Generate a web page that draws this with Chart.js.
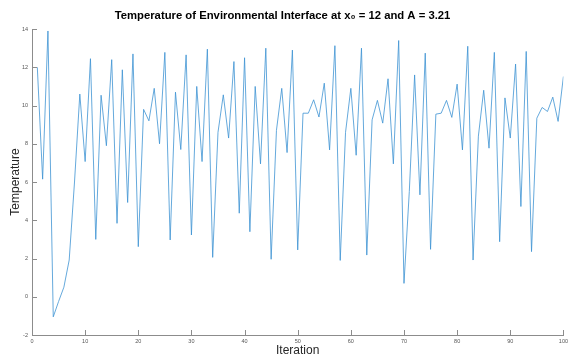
<!DOCTYPE html>
<html>
<head>
<meta charset="utf-8">
<script src="https://cdn.jsdelivr.net/npm/chart.js@4"></script>
<style>
  html, body { margin: 0; padding: 0; background: #fff; }
  #wrap { width: 571px; height: 359px; }
</style>
</head>
<body>
<div id="wrap"><canvas id="chart" width="571" height="359"></canvas></div>
<script>
// iteration numbers and temperatures
const iterations = [];
for (let i = 1; i <= 100; i++) iterations.push(i);

const temperature = [
  12.0, 6.15, 13.9, -1.05, -0.25, 0.5, 1.92, 6.0, 10.6, 7.07,
  12.45, 3.0, 10.54, 7.9, 12.4, 3.84, 11.87, 4.93, 12.7, 2.62,
  9.8, 9.2, 10.9, 8.0, 12.78, 2.97, 10.7, 7.7, 12.65, 3.23,
  11.0, 7.07, 12.95, 2.06, 8.6, 10.56, 8.3, 12.3, 4.37, 12.5,
  3.4, 11.0, 6.95, 13.0, 1.96, 8.7, 10.9, 7.54, 12.9, 2.45,
  9.6, 9.6, 10.3, 9.4, 11.17, 7.68, 13.13, 1.9, 8.6, 10.9,
  7.4, 13.0, 2.18, 9.25, 10.27, 9.08, 11.4, 6.95, 13.4, 0.7,
  5.5, 11.6, 5.33, 12.74, 2.48, 9.55, 9.6, 10.27, 9.38, 11.12,
  7.68, 13.1, 1.92, 8.4, 10.8, 7.77, 12.78, 2.88, 10.4, 8.3,
  12.17, 4.72, 12.83, 2.36, 9.34, 9.9, 9.69, 10.44, 9.17, 11.52
];

const xTicks = [0, 10, 20, 30, 40, 50, 60, 70, 80, 90, 100];
const yTicks = [-2, 0, 2, 4, 6, 8, 10, 12, 14];

const axisColor = '#8c8c8c';
const textColor = '#262626';

// MATLAB style ticks that point into the plot
const inwardTicks = {
  id: 'inwardTicks',
  afterDraw(chart) {
    const { ctx, chartArea, scales } = chart;
    ctx.save();
    ctx.strokeStyle = axisColor;
    ctx.lineWidth = 1;
    ctx.beginPath();
    xTicks.forEach(v => {
      const px = Math.round(scales.x.getPixelForValue(v)) + 0.5;
      ctx.moveTo(px, chartArea.bottom);
      ctx.lineTo(px, chartArea.bottom - 5);
    });
    yTicks.forEach(v => {
      const py = Math.round(scales.y.getPixelForValue(v)) + 0.5;
      ctx.moveTo(chartArea.left, py);
      ctx.lineTo(chartArea.left + 5, py);
    });
    ctx.stroke();
    ctx.restore();
  }
};

const tickFont = { family: 'Liberation Sans', size: 5.5 };
const labelFont = { family: 'Liberation Sans', size: 12 };

new Chart(document.getElementById('chart'), {
  type: 'line',
  data: {
    datasets: [{
      data: iterations.map((x, i) => ({ x: x, y: temperature[i] })),
      borderColor: '#3d93d3',
      borderWidth: 0.8,
      pointRadius: 0,
      tension: 0,
      fill: false
    }]
  },
  options: {
    responsive: false,
    animation: false,
    layout: { padding: { left: 0, right: 6, top: 0, bottom: 0 } },
    plugins: {
      legend: { display: false },
      tooltip: { enabled: false },
      title: {
        display: true,
        text: 'Temperature of Environmental Interface at x\u2080 = 12 and A = 3.21',
        color: '#000',
        font: { family: 'Liberation Sans', size: 11.3, weight: 'bold' },
        padding: { top: 9, bottom: 6.5 }
      }
    },
    scales: {
      x: {
        type: 'linear',
        min: 0,
        max: 100,
        afterBuildTicks: s => { s.ticks = xTicks.map(v => ({ value: v })); },
        afterFit: s => { s.height = 24; },
        grid: { display: false, drawTicks: false, tickLength: 0 },
        border: { display: true, color: axisColor, width: 1 },
        ticks: { color: '#555', font: tickFont, padding: 3, maxRotation: 0 },
        title: { display: true, text: 'Iteration', color: textColor, font: labelFont, padding: { top: 0, bottom: 1 } }
      },
      y: {
        type: 'linear',
        min: -2,
        max: 14,
        afterBuildTicks: s => { s.ticks = yTicks.map(v => ({ value: v })); },
        afterFit: s => { s.width = 32; },
        grid: { display: false, drawTicks: false, tickLength: 0 },
        border: { display: true, color: axisColor, width: 1 },
        ticks: { color: '#555', font: tickFont, padding: 4 },
        title: { display: true, text: 'Temperature', color: textColor, font: labelFont, padding: { top: 8, bottom: 0 } }
      }
    }
  },
  plugins: [inwardTicks]
});
</script>
</body>
</html>
